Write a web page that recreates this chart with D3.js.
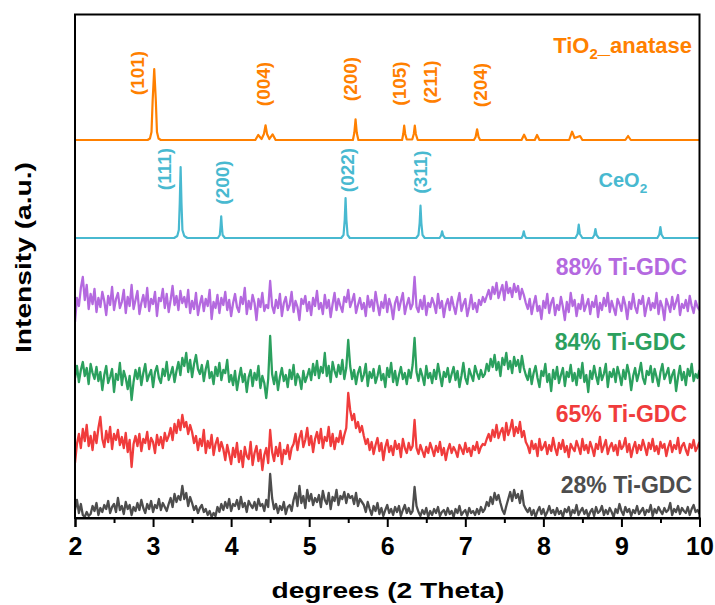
<!DOCTYPE html>
<html><head><meta charset="utf-8">
<script src="https://cdn.jsdelivr.net/npm/d3@7"></script>
<style>
body{margin:0;background:#fff}
svg{display:block}
text{font-family:"Liberation Sans",Arial,sans-serif;font-weight:bold}
</style>
</head><body>
<svg id="chart" width="715" height="605"></svg>
<script>
// ---------------- data ----------------
const xDomain = [2, 10];
const xTicks = [2, 3, 4, 5, 6, 7, 8, 9, 10];
const xMinorTicks = [2.5, 3.5, 4.5, 5.5, 6.5, 7.5, 8.5, 9.5];
const xTitle = "degrees (2 Theta)";
const yTitle = "Intensity (a.u.)";
const yDomain = [0, 503.5];

// reference patterns: [2theta, intensity above own baseline]
const tio2Offset = 378;
const tio2Pattern = [[2,0],[2.93,0],[2.96,1.5],[2.98,8],[2.995,40],[3.015,71],[3.035,40],[3.05,8],[3.07,1.5],[3.10,0],
  [4.31,0],[4.347,5],[4.39,1],[4.42,6],[4.441,14.7],[4.46,6],[4.49,1],[4.531,5.7],[4.57,0],
  [5.56,0],[5.578,7],[5.594,20.7],[5.61,7],[5.63,0],
  [6.19,0],[6.205,6],[6.217,14.3],[6.23,6],[6.25,0.5],[6.32,0.5],[6.34,6],[6.353,14.3],[6.366,6],[6.39,0],
  [7.11,0],[7.132,3],[7.151,10.7],[7.17,3],[7.19,0],
  [7.72,0],[7.753,5.3],[7.785,0],[7.89,0],[7.919,5],[7.95,0],
  [8.33,0],[8.368,8.3],[8.40,2],[8.47,4],[8.50,0],
  [9.05,0],[9.085,4],[9.12,0],[10,0]];
const tio2Peaks = [
  {hkl:"(101)", theta:2.794, h:67}, {hkl:"(004)", theta:4.414, h:56},
  {hkl:"(200)", theta:5.521, h:61}, {hkl:"(105)", theta:6.149, h:56.5},
  {hkl:"(211)", theta:6.546, h:58}, {hkl:"(204)", theta:7.198, h:55}];

const ceo2Offset = 280;
const ceo2Pattern = [[2,0],[3.27,0],[3.31,2],[3.33,8],[3.342,35],[3.353,71],[3.364,35],[3.376,8],[3.40,2],[3.44,0],
  [3.83,0],[3.855,3],[3.865,12],[3.873,21.6],[3.881,12],[3.891,3],[3.92,0],
  [5.41,0],[5.44,3],[5.455,18],[5.466,40],[5.477,18],[5.492,3],[5.52,0],
  [6.37,0],[6.40,3],[6.415,15],[6.426,32.3],[6.437,15],[6.452,3],[6.48,0],
  [6.67,0],[6.69,2.5],[6.703,6.7],[6.716,2.5],[6.74,0],
  [7.72,0],[7.737,2.5],[7.749,6.7],[7.761,2.5],[7.78,0],
  [8.41,0],[8.438,4],[8.453,13.3],[8.468,4],[8.50,0],
  [8.63,0],[8.653,3],[8.667,9],[8.681,3],[8.71,0],
  [9.46,0],[9.485,3.5],[9.499,11],[9.513,3.5],[9.54,0],[10,0]];
const ceo2Peaks = [
  {hkl:"(111)", theta:3.14, h:69}, {hkl:"(200)", theta:3.889, h:55.5},
  {hkl:"(022)", theta:5.489, h:68}, {hkl:"(311)", theta:6.43, h:66}];

// Ti-GDC samples: intensities sampled evenly from 2 to 10 degrees
const gdc28 = [8,18,5,14,3,1,6,2,
 4,12,7,15,3,10,6,13, 9,17,5,11,14,6,20,8, 12,4,16,9,13,3,11,7, 15,8,18,10,5,14,9,17, 6,13,10,19,8,15,11,7,
 14,20,11,24,16,22,18,32, 19,25,12,21,
 15,8,12,5,10,13,6,9, 3,7,1,5,2,11,6,14,
 8,16,10,19,7,14,12,18, 9,21,11,15,6,17,13,10, 16,8,19,12,14,7,18,11,
 44,20,
 9,14,5,12,8,16,4,11,13,7,
 18,25,12,32,15,22,10,28,17,24,13,20,
 16,23,11,27,18,14,25,9,21,17,28,13,22,19,26,15,24,20,
 22,14,25,12,19,16,
 13,6,16,9,3,12,7,15,4,10,2,8,13,5,
 9,3,11,6,12,2,8,13,5,10,4,7,
 31,12,
 6,2,8,4,10,1,7,3, 9,5,11,2,6,8,3,10, 4,7,1,9,5,12,3,6, 8,2,10,5,7,3,9,4, 11,6,
 9,16,12,21,14,25,18,23, 15,8,4,12,19,26,17,28, 20,24,15,27,13,9,
 6,10,3,8,1,7,11,4, 9,2,6,12,5,8,3,10, 4,7,1,9,6,11,2,8, 5,13,3,7,10,4,8,1, 6,9,2,11,5,7,12,3,
 8,4,10,6,1,9,5,14, 7,3,11,6,9,2,8,5, 12,4,7,10,3,8,6,13, 2,9,5,11,7,4,10,6, 8,15,3,9,6,12,4,10,
 7,5,11,3,9,13,6,8, 4];

const gdc65 = [-5,14,24,10,29,17,33,12,
 22,8,26,15,30,41,19,11, 27,16,31,9,24,18,28,13,
 21,10,25,6,18,-9,14,22,
 12,24,7,19,15,26,9,20, 16,5,23,13,21,10,25,17,
 22,30,18,34,25,38,28,43, 31,36,24,33,
 26,15,22,8,19,12,28,5, 17,10,23,3,14,20,7,16,
 9,-2,13,4,-6,10,1,15, -4,7,-9,11,2,-1,16,-7, 5,12,-3,8,-12,3,10,-5,
 28,6,
 -3,11,2,15,-6,8,4,13,-1,10,
 14,24,8,20,27,11,18,30, 13,22,6,19,26,15,29,10, 21,17,31,12,24,9,20,16, 27,14,23,30,
 65,48,
 38,44,30,36,26,32,
 22,14,19,8,16,4,13,20, 7,15,-2,11,18,6,12,3, 17,9,14,1,19,10,5,15,
 8,12,
 38,10,
 4,13,7,1,11,5,15,9, 2,12,6,16,3,10,-2,8, 14,5,11,7,1,13,9,4, 15,6,10,2,12,8,16,5, 11,14,
 13,19,24,17,28,21,33,20, 26,30,18,35,23,29,38,22, 31,25,36,21,27,16,
 12,5,17,9,14,2,19,8, 11,16,4,13,7,20,10,3, 15,9,18,6,12,1,14,10, 7,17,11,4,19,8,13,5, 16,10,2,14,9,21,6,12,
 18,4,11,15,7,13,3,17, 9,12,20,6,14,1,10,16, 5,13,8,18,11,3,15,9, 19,7,12,4,16,10,14,2, 11,17,6,13,9,20,5,12,
 15,8,3,14,10,18,7,11, 16];

const gdc84 = [10,22,6,18,26,12,20,4,24,15,9,21,
 7,16,-2,13,22,5,11,19, -4,14,8,25,3,17,10,-1, 12,-12,6,18,
 9,20,3,15,24,7,13,18, 1,16,22,10,5,19,12,26, 8,14,21,6,
 17,26,13,30,22,35,16,28,11,24,33,19,
 14,23,7,19,27,10,16,4, 21,12,25,8,18,15,28,6,
 13,3,17,-2,10,20,6,14, -4,11,18,2,15,8,22,0, 12,5,-10,9,
 52,14,
 4,16,-2,11,20,7,13,1, 18,9,23,3,14,10,-1,17, 6,12,
 19,8,24,13,27,10,21,15, 35,12,22,6,26,17,11,23, 14,28,9,20,
 48,22,
 9,18,4,15,21,7,13,24, 2,16,10,19,5,12,22,8, 14,1,20,11,25,6,17,3, 13,21,9,15,4,18,10,23,
 50,16,
 7,19,12,3,22,10,15,5, 18,9,24,13,2,16,11,20, 6,14,21,8,17,1,12,25, 10,4,19,13,7,22,15,9, 18,11,
 14,24,17,29,21,33,18,26, 12,30,23,35,19,27,15,31, 22,28,16,32,20,13,
 8,19,4,15,22,10,1,17, 12,24,6,14,-3,18,9,21, 5,13,20,2,16,11,23,7, 15,3,19,10,25,6,13,-4, 17,9,22,12,4,20,8,14,
 24,1,16,11,19,6,21,13, 3,18,9,23,14,-2,12,20, 7,15,25,10,4,17,13,22, 6,19,11,2,16,24,9,14, 20,5,13,18,-3,11,22,8,
 16,3,19,12,24,7,14,10, 18];

const gdc88 = [-4,20,12,30,41,18,33,9,
 24,14,29,6,20,11,26,17, 3,22,13,31,8,19,25,10, 16,28,5,21,12,33,9,18, 27,4,15,23,11,30,7,19,
 14,26,2,20,17,29,10,24, 6,18,32,13,22,8,27,15, 21,11,28,5,
 17,9,25,3,14,22,7,19, 12,28,-1,16,10,23,5,20, 13,26,8,18,2,15,24,11, 6,21,14,30,4,17,9,23, 15,-2,19,11,25,7,13,10,
 37,12,
 5,18,10,24,2,15,21,8, 13,26,6,17,11,-2,19,14, 22,7,16,3,20,12,27,9, 15,4,23,10,18,1,14,25, 8,19,12,6,21,16,28,11,
 17,24,5,13,20,9,15,2, 22,11,18,7,26,14,3,16, 10,23,6,19,12,-1,15,21, 8,17,25,4,13,20,9,14,
 41,11,
 6,18,9,22,3,15,11,20, 14,5,24,10,17,1,13,19, 8,21,12,4,16,25,7,14, 19,2,11,23,9,15,6,18, 13,21,
 16,22,28,19,31,24,35,20, 27,33,18,36,25,30,21,34, 26,32,19,29,23,15,
 9,19,4,14,22,7,12,-1, 17,10,24,5,15,20,3,13, 8,21,11,-2,16,6,25,12, 18,2,14,9,23,7,13,19, 4,16,11,22,1,15,8,20,
 12,25,6,17,10,3,19,14, 7,21,13,-1,16,9,24,11, 5,18,14,22,2,12,20,8, 15,10,25,4,17,11,-2,19, 13,6,21,9,16,23,3,14,
 10,18,7,22,12,5,17,11, 8];

const sampleNames = ["28% Ti-GDC", "65% Ti-GDC", "84% Ti-GDC", "88% Ti-GDC"];
const sampleSeries = [gdc28, gdc65, gdc84, gdc88];
const sampleOffsets = [0, 60, 130, 200];
const sampleColors = ["#4d4d4d", "#f03c3c", "#2ba05e", "#b469df"];
// label anchors (right end, in data coords relative to each offset)
const sampleLabelTheta = [9.904, 9.84, 9.827, 9.84];
const sampleLabelH = [25, 36.3, 38, 43];

const tio2Color = "#ff8000", ceo2Color = "#48b9d0";

// ---------------- chart ----------------
const W = 715, H = 605;
const margin = {left: 75, right: 15.5, top: 14.5, bottom: 87};
const svg = d3.select("#chart");
const x = d3.scaleLinear().domain(xDomain).range([margin.left, W - margin.right]);
const y = d3.scaleLinear().domain(yDomain).range([H - margin.bottom, margin.top]);

svg.append("defs").append("clipPath").attr("id", "clip")
  .append("rect").attr("x", margin.left).attr("y", margin.top)
  .attr("width", W - margin.left - margin.right).attr("height", H - margin.top - margin.bottom);

const plot = svg.append("g").attr("clip-path", "url(#clip)");

const line = d3.line().x(d => x(d[0])).y(d => y(d[1]));

// noisy sample patterns
sampleSeries.forEach((vals, k) => {
  const n = vals.length;
  const pts = vals.map((v, i) => [xDomain[0] + i * (xDomain[1] - xDomain[0]) / (n - 1), sampleOffsets[k] + v]);
  plot.append("path").attr("d", line(pts)).attr("fill", "none")
    .attr("stroke", sampleColors[k]).attr("stroke-width", 2.3).attr("stroke-linejoin", "round");
});

// reference patterns
plot.append("path").attr("d", line(ceo2Pattern.map(d => [d[0], ceo2Offset + d[1]])))
  .attr("fill", "none").attr("stroke", ceo2Color).attr("stroke-width", 2.2).attr("stroke-linejoin", "round");
plot.append("path").attr("d", line(tio2Pattern.map(d => [d[0], tio2Offset + d[1]])))
  .attr("fill", "none").attr("stroke", tio2Color).attr("stroke-width", 2.2).attr("stroke-linejoin", "round");

// peak labels
function peakLabels(peaks, offset, color) {
  peaks.forEach(p => {
    svg.append("text")
      .attr("transform", `translate(${x(p.theta)},${y(offset + p.h)}) rotate(-90)`)
      .attr("text-anchor", "middle").attr("dy", "0.35em")
      .attr("font-size", 19).attr("fill", color).text(p.hkl);
  });
}
peakLabels(tio2Peaks, tio2Offset, tio2Color);
peakLabels(ceo2Peaks, ceo2Offset, ceo2Color);

// series labels
function subLabel(parts, theta, val, color, size) {
  const t = svg.append("text").attr("x", x(theta)).attr("y", y(val))
    .attr("text-anchor", "end").attr("font-size", size).attr("fill", color);
  let shifted = false;
  parts.forEach(([s, sub]) => {
    const ts = t.append("tspan").text(s);
    if (sub) { ts.attr("font-size", size * 0.68).attr("dy", size * 0.3); shifted = true; }
    else if (shifted) { ts.attr("dy", -size * 0.3); shifted = false; }
  });
}
subLabel([["TiO", false], ["2", true], ["_anatase", false]], 9.904, tio2Offset + 87.3, tio2Color, 22);
subLabel([["CeO", false], ["2", true]], 9.33, ceo2Offset + 51, ceo2Color, 20);
sampleNames.forEach((nm, k) => {
  svg.append("text").attr("x", x(sampleLabelTheta[k])).attr("y", y(sampleOffsets[k] + sampleLabelH[k]))
    .attr("text-anchor", "end").attr("font-size", 23).attr("fill", sampleColors[k]).text(nm);
});

// frame
svg.append("rect").attr("x", margin.left).attr("y", margin.top)
  .attr("width", W - margin.left - margin.right).attr("height", H - margin.top - margin.bottom)
  .attr("fill", "none").attr("stroke", "#000").attr("stroke-width", 2);

// x axis
const gx = svg.append("g").attr("transform", `translate(0,${H - margin.bottom})`)
  .call(d3.axisBottom(x).tickValues(xTicks).tickFormat(d3.format("d")).tickSize(9).tickPadding(10));
gx.select(".domain").attr("stroke", "#000").attr("stroke-width", 2);
gx.selectAll(".tick line").attr("stroke", "#000").attr("stroke-width", 2);
gx.selectAll(".tick text").attr("font-size", 25).attr("font-family", '"Liberation Sans",Arial,sans-serif')
  .attr("font-weight", "bold").attr("fill", "#000");
const gm = svg.append("g").attr("transform", `translate(0,${H - margin.bottom})`)
  .call(d3.axisBottom(x).tickValues(xMinorTicks).tickFormat("").tickSize(5));
gm.select(".domain").remove();
gm.selectAll(".tick line").attr("stroke", "#000").attr("stroke-width", 2);

// axis titles
svg.append("text").attr("x", 388).attr("y", 598).attr("text-anchor", "middle")
  .attr("font-size", 22).attr("textLength", 233).attr("lengthAdjust", "spacingAndGlyphs")
  .attr("fill", "#000").text(xTitle);
svg.append("text").attr("transform", "translate(31,257.5) rotate(-90)").attr("text-anchor", "middle")
  .attr("font-size", 22).attr("textLength", 191).attr("lengthAdjust", "spacingAndGlyphs")
  .attr("fill", "#000").text(yTitle);
</script>
</body></html>
